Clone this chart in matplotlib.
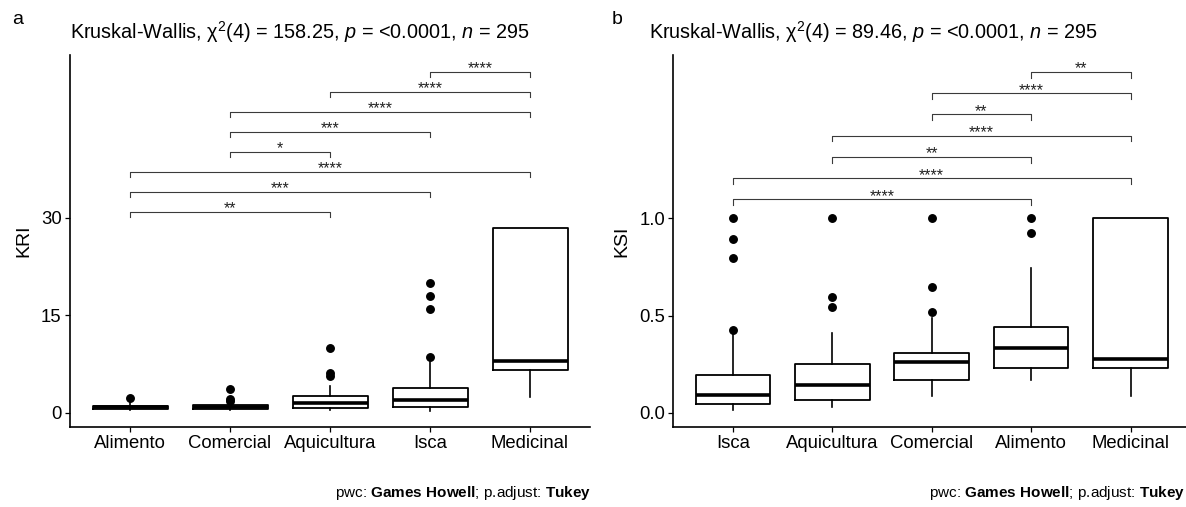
import matplotlib
matplotlib.use('Agg')
import matplotlib.pyplot as plt

plt.rcParams['font.family'] = ['Liberation Sans', 'DejaVu Sans']
plt.rcParams['mathtext.fontset'] = 'custom'
plt.rcParams['mathtext.rm'] = 'Liberation Sans'
plt.rcParams['mathtext.it'] = 'Liberation Sans:italic'
plt.rcParams['mathtext.bf'] = 'Liberation Sans:bold'

W, H = 1186, 507

## panel a: KRI
kri_groups = ['Alimento', 'Comercial', 'Aquicultura', 'Isca', 'Medicinal']
kri_q1 = [0.55, 0.55, 0.77, 0.92, 6.6]
kri_med = [0.8, 0.8, 1.55, 1.95, 8.0]
kri_q3 = [1.05, 1.15, 2.57, 3.85, 28.4]
kri_lo = [0.4, 0.4, 0.4, 0.3, 2.45]
kri_hi = [1.6, 1.5, 4.1, 7.8, 28.4]
kri_out = [[2.3], [1.75, 2.1, 3.6], [5.65, 6.05, 10.0], [8.5, 16.0, 17.9, 19.95], []]
kri_pairs = [(1, 3), (1, 4), (1, 5), (2, 3), (2, 4), (2, 5), (3, 5), (4, 5)]
kri_signif = ['**', '***', '****', '*', '***', '****', '****', '****']
kri_ticks = [0, 15, 30]
kri_title = r'Kruskal-Wallis, χ$^2$(4) = 158.25, $p$ = <0.0001, $n$ = 295'

## panel b: KSI
ksi_groups = ['Isca', 'Aquicultura', 'Comercial', 'Alimento', 'Medicinal']
ksi_q1 = [0.046, 0.068, 0.169, 0.231, 0.231]
ksi_med = [0.094, 0.144, 0.26, 0.336, 0.277]
ksi_q3 = [0.193, 0.25, 0.308, 0.443, 1.0]
ksi_lo = [0.013, 0.031, 0.085, 0.171, 0.085]
ksi_hi = [0.41, 0.41, 0.49, 0.744, 1.0]
ksi_out = [[0.424, 0.797, 0.895, 1.0], [0.547, 0.598, 1.0], [0.52, 0.645, 1.0], [0.923, 1.0], []]
ksi_pairs = [(1, 4), (1, 5), (2, 4), (2, 5), (3, 4), (3, 5), (4, 5)]
ksi_signif = ['****', '****', '**', '****', '**', '****', '**']
ksi_ticks = [0.0, 0.5, 1.0]
ksi_title = r'Kruskal-Wallis, χ$^2$(4) = 89.46, $p$ = <0.0001, $n$ = 295'

caption = r'pwc: $\mathbf{Games\ Howell}$; p.adjust: $\mathbf{Tukey}$'

fig = plt.figure(figsize=(W / 100, H / 100), dpi=100)


def fx(px):
    return px / W


def fy(py):
    return 1 - py / H


def panel(left, right, top, bottom, groups, q1, med, q3, lo, hi, out,
          pairs, signif, ylim, ticks, fmt, ylabel, base, step):
    ax = fig.add_axes([fx(left), fy(bottom), fx(right - left), (bottom - top) / H])
    stats = []
    for i in range(len(groups)):
        stats.append(dict(q1=q1[i], med=med[i], q3=q3[i], whislo=lo[i],
                          whishi=hi[i], fliers=out[i]))
    ax.bxp(stats, positions=range(1, len(groups) + 1), widths=0.75,
           showcaps=False, patch_artist=False,
           boxprops=dict(color='black', lw=1.3),
           whiskerprops=dict(color='black', lw=1.2),
           medianprops=dict(color='black', lw=2.6, solid_capstyle='butt'),
           flierprops=dict(marker='o', markerfacecolor='black',
                           markeredgecolor='black', markersize=5.4))
    ax.set_xlim(0.4, len(groups) + 0.6)
    ax.set_ylim(ylim)
    ax.set_xticks(range(1, len(groups) + 1))
    ax.set_xticklabels(groups)
    ax.set_yticks(ticks)
    ax.set_yticklabels([fmt.format(t) for t in ticks])
    for s in ['top', 'right']:
        ax.spines[s].set_visible(False)
    for s in ['left', 'bottom']:
        ax.spines[s].set_linewidth(1.2)
    ax.tick_params(direction='out', length=3.5, width=0.9, labelsize=13.3,
                   pad=2.5, colors='black')
    ax.set_ylabel(ylabel, fontsize=14, labelpad=6)

    ##significance brackets
    ppu = (bottom - top) / (ylim[1] - ylim[0])
    tip = 5.7 / ppu
    for k, (a, b) in enumerate(pairs):
        y = base + k * step
        ax.plot([a, a, b, b], [y - tip, y, y, y - tip], color='#3a3a3a',
                lw=0.8, clip_on=False)
        ax.annotate(signif[k], xy=((a + b) / 2, y), xytext=(0, -1.2),
                    textcoords='offset points', ha='center', va='baseline',
                    fontsize=11.5, color='#222222')
    return ax


ax1 = panel(70, 590, 55, 427, kri_groups, kri_q1, kri_med, kri_q3, kri_lo,
            kri_hi, kri_out, kri_pairs, kri_signif, (-2.2, 55.0), kri_ticks,
            '{:.0f}', 'KRI', 30.9, 3.08)
ax2 = panel(673.3, 1190.2, 55, 427, ksi_groups, ksi_q1, ksi_med, ksi_q3, ksi_lo,
            ksi_hi, ksi_out, ksi_pairs, ksi_signif, (-0.072, 1.839), ksi_ticks,
            '{:.1f}', 'KSI', 1.097, 0.1092)

fig.text(fx(70), fy(32), kri_title, fontsize=14.3, ha='left', va='center')
fig.text(fx(649), fy(32), ksi_title, fontsize=14.3, ha='left', va='center')
fig.text(fx(12), fy(20), 'a', fontsize=14, ha='left', va='center')
fig.text(fx(612), fy(20), 'b', fontsize=14, ha='left', va='center')
fig.text(fx(591), fy(493), caption, fontsize=11, ha='right', va='center')
fig.text(fx(1185), fy(493), caption, fontsize=11, ha='right', va='center')

fig.savefig('out.png', dpi=100)
